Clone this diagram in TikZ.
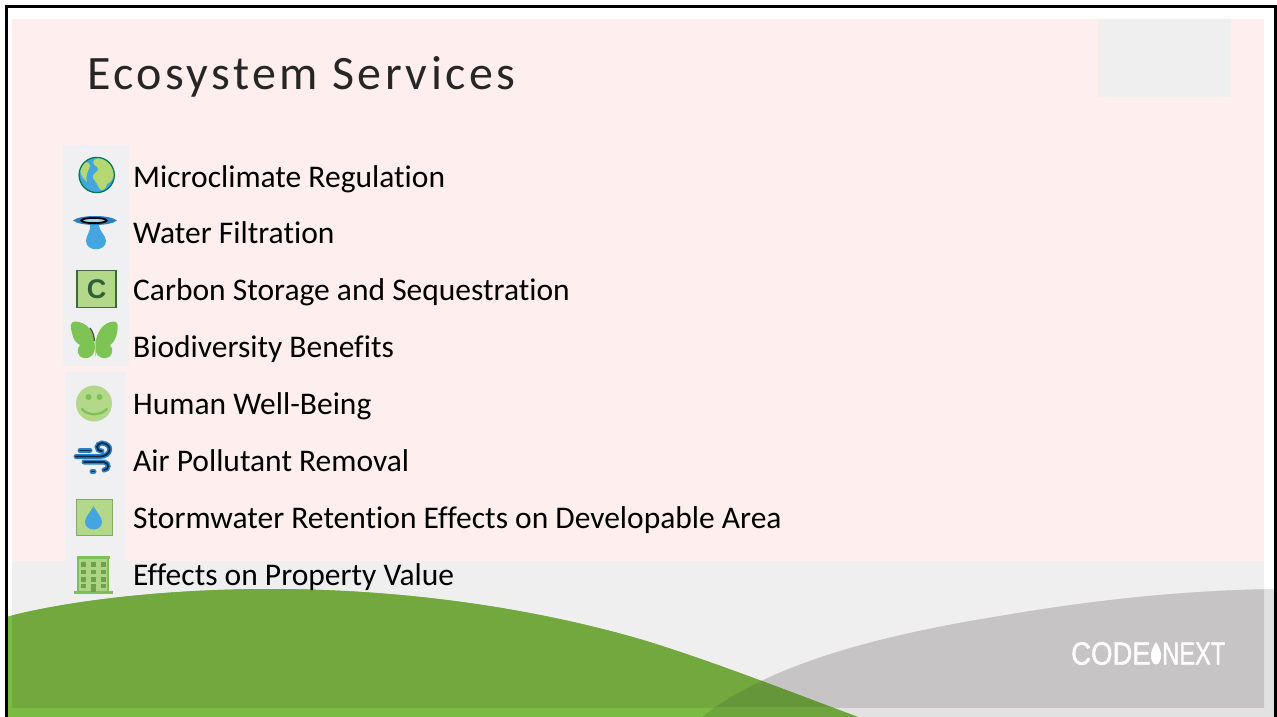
\documentclass[tikz,border=0pt]{standalone}
\usepackage{fontspec}
\setmainfont[Ligatures=NoCommon]{Carlito}
\newfontfamily\titlefont[LetterSpace=7.2,Ligatures=NoCommon]{Carlito}
\newfontfamily\logofont[FakeBold=1.4]{Liberation Sans}
\newfontfamily\boxfont{Liberation Sans}
\usetikzlibrary{calc}
\definecolor{pinkbg}{HTML}{FFEEEE}
\definecolor{band}{HTML}{EFEFEF}
\definecolor{greenA}{HTML}{72A83E}
\definecolor{greenB}{HTML}{7CBB42}
\definecolor{greenC}{HTML}{65963A}
\definecolor{greyA}{HTML}{C6C4C4}
\definecolor{greyB}{HTML}{E2E2E2}
\definecolor{iconbg}{HTML}{F0F0F2}
\definecolor{leaf}{HTML}{B4D88A}
\definecolor{leafd}{HTML}{7FBF5A}
\definecolor{bfly}{HTML}{7DC455}
\definecolor{aqua}{HTML}{45A5DE}
\definecolor{navy}{HTML}{0B2A4A}
\definecolor{blueW}{HTML}{2A80C4}
\definecolor{cdark}{HTML}{2F6035}
\definecolor{land}{HTML}{B5D873}
\tikzset{
  item/.style={anchor=base west,inner sep=0pt,font=\fontsize{31.5}{33}\selectfont,text=black},
  logotext/.style={inner sep=0pt,text=white,font=\logofont\fontsize{32}{33}\selectfont},
}
\begin{document}
\begin{tikzpicture}[x=1pt,y=-1pt]
\useasboundingbox (0,0) rectangle (1277,717);
\fill[white] (0,0) rectangle (1277,717);
% slide
\fill[pinkbg] (12,19) rectangle (1264,561);
\fill[band] (12,561) rectangle (1264,707);
\fill[band!70!white] (12,707) rectangle (1264,717);
\fill[band] (1098,19) rectangle (1231,97);
% grey swoosh
\def\greyarc{(702,717) .. controls (760,672) and (850,640) .. (1000,616) .. controls (1110,597) and (1200,590) .. (1277,589) -- (1277,717) -- cycle}
\fill[greyB] \greyarc;
\begin{scope}
\clip (12,19) rectangle (1264,707);
\fill[greyA] \greyarc;
\end{scope}
% green swoosh
\def\greenarc{(6,617) .. controls (70,600) and (170,589) .. (270,589) .. controls (400,589) and (530,607) .. (643,640) .. controls (715,662) and (790,692) .. (858,717) -- (6,717) -- cycle}
\fill[greenB] \greenarc;
\begin{scope}
\clip (12,19) rectangle (1264,707);
\fill[greenA] \greenarc;
\clip \greyarc;
\fill[greenC] \greenarc;
\end{scope}
\begin{scope}
\clip (12,707) rectangle (1264,717);
\clip \greyarc;
\fill[greenC!60!greenB] \greenarc;
\end{scope}
% frame
\draw[black,line width=2.6pt] (6.3,717) -- (6.3,6.3) -- (1275.7,6.3) -- (1275.7,717);
% icon backdrops
\fill[iconbg] (63,145) rectangle (129,366);
\fill[iconbg] (65,372) rectangle (126,561);
% title
\node[anchor=base west,inner sep=0pt,text=black!85,font=\titlefont\fontsize{48}{50}\selectfont] (title) at (87,89) {Ecosystem Services};
% items
\node[item] (t1) at (133,187) {Microclimate Regulation};
\node[item] (t2) at (133,243) {Water Filtration};
\node[item] (t3) at (133,300) {Carbon Storage and Sequestration};
\node[item] (t4) at (133,357) {Biodiversity Benefits};
\node[item] (t5) at (133,414) {Human Well-Being};
\node[item] (t6) at (133,471) {Air Pollutant Removal};
\node[item] (t7) at (133,528) {Stormwater Retention Effects on Developable Area};
\node[item] (t8) at (133,585) {Effects on Property Value};
% globe
\fill[aqua] (96.7,175) circle (18);
\begin{scope}
\clip (96.7,175) circle (18);
\fill[land] (94,160) .. controls (100,155) and (116,160) .. (116,172) .. controls (113,179) and (111,182) .. (107,184) .. controls (105,192) and (100,192) .. (98,186) .. controls (96,180) and (92,180) .. (93,175) .. controls (96,172) and (100,170) .. (97,167) .. controls (95,166) and (92,164) .. cycle;
\fill[land] (80,165) .. controls (84,160) and (90,162) .. (90,166) .. controls (88,172) and (85,176) .. (87,182) .. controls (82,178) and (79,172) .. cycle;
\end{scope}
\draw[black!25!teal!85!green,line width=1.2pt] (96.7,175) circle (17.6);
% filter
\fill[aqua] (99,224) .. controls (99,232) and (106,235) .. (106,241) .. controls (106,252) and (86,252) .. (86,241) .. controls (86,235) and (91,232) .. (90,224) -- cycle;
\fill[blueW] (73,220.5) .. controls (80,214.5) and (110,214.5) .. (117,220.5) .. controls (110,226.5) and (80,226.5) .. cycle;
\draw[black,line width=1.8pt,fill=iconbg!60!aqua] (94,220.5) ellipse (12.5 and 2.6);
% carbon box
\node[draw=cdark!80!gray,fill=leaf,line width=1.5pt,minimum width=39pt,minimum height=37pt,inner sep=0pt,font=\boxfont\bfseries\fontsize{27}{28}\selectfont,text=cdark] (c) at (96.7,289) {C};
% butterfly
\fill[bfly] (95,347) .. controls (94,332) and (88,322) .. (75,321.5) .. controls (70,321.5) and (70,327) .. (72,333) .. controls (73,339) and (76,343) .. (80,345) .. controls (76,349) and (77,357) .. (84,358) .. controls (91,359) and (95,354) .. (95,347) -- cycle;
\fill[bfly] (95,347) .. controls (96,332) and (103,322) .. (114,321.5) .. controls (119,321.5) and (118,328) .. (117,333) .. controls (116,339) and (113,343) .. (110,345) .. controls (114,349) and (113,357) .. (106,358) .. controls (99,359) and (95,354) .. (95,347) -- cycle;
\draw[black!70,line width=1.3pt] (90,328) .. controls (93,332) and (94,336) .. (94.5,341);
\draw[leaf,line width=0.8pt] (95,341) -- (95,356);
% smile
\fill[leaf] (94,403.5) circle (18);
\fill[leafd] (88.5,397) circle (3);
\fill[leafd] (99.5,397) circle (3);
\draw[leafd,line width=2.2pt,line cap=round] (82,409) .. controls (88,416) and (100,416) .. (107,409);
% wind
\foreach \cc/\ww in {blueW/5,navy/1.8}{
  \draw[\cc,line width=\ww pt,line cap=round] (76,456.5) -- (100,456.5) .. controls (112,456) and (113,444) .. (102,443) .. controls (96,443) and (95,451) .. (102,451);
  \draw[\cc,line width=\ww pt,line cap=round] (80,450.5) -- (90,450.5) ;
  \draw[\cc,line width=\ww pt,line cap=round] (84,462) -- (104,462) .. controls (110,463) and (109,470) .. (104,470);
  \draw[\cc,line width=\ww pt,line cap=round] (92,471.5) -- (94,471.5);
}
% drop box
\fill[leaf] (76,499) rectangle (112,535);
\draw[leafd!70!gray,line width=1pt] (76,499) rectangle (112,535);
\fill[aqua] (93.5,506) .. controls (97,513) and (102,517) .. (102,522) .. controls (102,532) and (85,532) .. (85,522) .. controls (85,517) and (90,513) .. (93.5,506) -- cycle;
% building
\fill[leaf!85!leafd] (78,557) rectangle (108,592);
\draw[leafd,line width=1.6pt] (78,557) -- (78,592);
\draw[leafd,line width=1.6pt] (108,557) -- (108,592);
\fill[leafd] (76.5,555.5) rectangle (109.5,558.5);
\fill[leafd] (74,590.5) rectangle (113,594);
\foreach \yy in {562,569.5,577}{\foreach \xx in {81,91,101}{\fill[leafd!85!black] (\xx,\yy) rectangle (\xx+4.5,\yy+4.5);}}
\foreach \xx in {81,101}{\fill[leafd!85!black] (\xx,584) rectangle (\xx+4.5,588);}
\fill[leafd!85!black] (91,584) rectangle (95.5,592);
% logo
\node[logotext,anchor=base west] (logoa) at (1071,664.5) {\scalebox{.86}[1]{CODE}};
\node[logotext,anchor=base west] (logob) at (1162,664.5) {\scalebox{.74}[1]{NEXT}};
\fill[white] (1156,642) .. controls (1151,650) and (1149,657) .. (1153,663) .. controls (1154.5,665) and (1157.5,665) .. (1159,663) .. controls (1163,657) and (1161,650) .. (1156,642) -- cycle;
\end{tikzpicture}
\end{document}
